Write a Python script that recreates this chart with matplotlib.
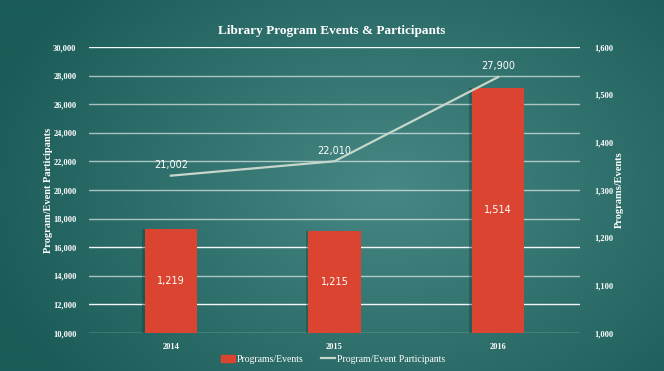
import numpy as np
import matplotlib.pyplot as plt
from matplotlib import patheffects as pe
from matplotlib.lines import Line2D
from matplotlib.patches import Patch

# data
years = ['2014', '2015', '2016']
programs = [1219, 1215, 1514]
participants = [21002, 22010, 27900]

bar_color = '#db4430'
line_color = '#c5d6cb'
text_color = '#ffffff'
serif = ['Liberation Serif', 'DejaVu Serif']

fig = plt.figure(figsize=(6.64, 3.71), dpi=100)

# radial gradient background
bg = fig.add_axes([0, 0, 1, 1])
gx, gy = np.meshgrid(np.linspace(0, 664, 332), np.linspace(0, 371, 186))
d = np.sqrt(((gx - 390) / 420) ** 2 + ((gy - 190) / 300) ** 2)
d = np.clip(d, 0, 1)
inner = np.array([0x48, 0x88, 0x84]) / 255
outer = np.array([0x1b, 0x5c, 0x58]) / 255
img = inner[None, None, :] * (1 - d[..., None]) + outer[None, None, :] * d[..., None]
bg.imshow(img, extent=[0, 664, 371, 0], aspect='auto', interpolation='bicubic')
bg.axis('off')

ax = fig.add_axes([89 / 664, 1 - 333 / 371, 491 / 664, 286 / 371])
ax.patch.set_alpha(0)
ax2 = ax.twinx()
ax2.patch.set_alpha(0)

x = np.arange(len(years))

# left axis: participants (line drawn on top later)
ax.set_ylim(10000, 30000)
ax.set_yticks(np.arange(10000, 30001, 2000))
ax.set_yticklabels([f'{v:,}' for v in range(10000, 30001, 2000)])
ax.set_xlim(-0.5, 2.5)
ax.set_xticks(x)
ax.set_xticklabels(years)

for yv in np.arange(10000, 30001, 2000):
    ax.axhline(yv, color='white', lw=1.0, alpha=0.95 if yv in (30000, 16000, 12000) else 0.6, zorder=1)

# right axis: programs
ax2.set_ylim(1000, 1600)
ax2.set_yticks(np.arange(1000, 1601, 100))
ax2.set_yticklabels([f'{v:,}' for v in range(1000, 1601, 100)])
bars = ax2.bar(x, programs, width=0.32, color=bar_color, zorder=2)
for b in bars:
    b.set_path_effects([pe.SimplePatchShadow(offset=(-2, 0), shadow_rgbFace='#0c3432', alpha=0.35), pe.Normal()])
for xi, v in zip(x, programs):
    ax2.text(xi, 1000 + (v - 1000) / 2, f'{v:,}', ha='center', va='center',
             color=text_color, fontsize=7, zorder=5)

# line on its own overlay so it draws above bars
ax3 = ax.twinx()
ax3.set_ylim(10000, 30000)
ax3.axis('off')
ax3.plot(x, participants, color=line_color, lw=1.6, zorder=4)
for xi, v in zip(x, participants):
    ax3.text(xi, v + 400, f'{v:,}', ha='center', va='bottom', color=text_color, fontsize=7)

for a in (ax, ax2):
    for s in a.spines.values():
        s.set_visible(False)
    a.tick_params(length=0, colors=text_color, labelsize=6)
    for lab in a.get_yticklabels() + a.get_xticklabels():
        lab.set_family(serif)
        lab.set_fontweight('bold')
ax.tick_params(axis='x', pad=7)
ax.tick_params(axis='y', pad=9)
ax2.tick_params(axis='y', pad=10)

ax.set_ylabel('Program/Event Participants', color=text_color, fontsize=7.5,
              fontweight='bold', family=serif, labelpad=0)
ax2.set_ylabel('Programs/Events', color=text_color, fontsize=7.5,
               fontweight='bold', family=serif, labelpad=1)

fig.text(332 / 664, 1 - 31 / 371, 'Library Program Events & Participants', ha='center',
         va='center', color=text_color, fontsize=9.5, fontweight='bold', family=serif)

handles = [Patch(color=bar_color), Line2D([0], [0], color=line_color, lw=1.6)]
leg = fig.legend(handles, ['Programs/Events', 'Program/Event Participants'],
                 loc='center', bbox_to_anchor=(333 / 664, 1 - 359 / 371), ncol=2,
                 frameon=False, prop={'family': serif, 'size': 7},
                 handlelength=1.4, handleheight=0.7, handletextpad=0.2, columnspacing=1.8)
for t in leg.get_texts():
    t.set_color(text_color)

fig.savefig('out.png', dpi=100)
